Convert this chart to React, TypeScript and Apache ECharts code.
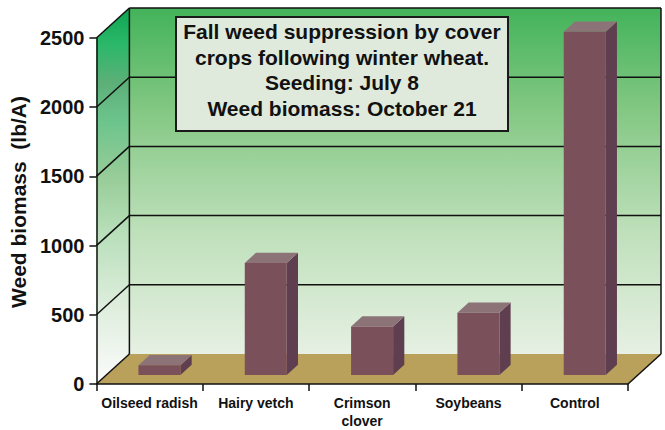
import React, { useEffect, useRef } from 'react';
import * as echarts from 'echarts';

const categories = ['Oilseed radish', 'Hairy vetch', 'Crimson\nclover', 'Soybeans', 'Control'];
const biomass = [70, 810, 350, 450, 2480];
const yTicks = [0, 500, 1000, 1500, 2000, 2500];
const titleLines = [
  'Fall weed suppression by cover',
  'crops following winter wheat.',
  'Seeding: July 8',
  'Weed biomass: October 21',
];
const yAxisName = 'Weed biomass  (lb/A)';

const DX = 33;
const DY = -30;
const FONT = '"Liberation Sans", Arial, Helvetica, sans-serif';

export default function App() {
  const ref = useRef<HTMLDivElement>(null);

  useEffect(() => {
    const chart = echarts.init(ref.current!, null, { renderer: 'svg' });

    const backGrad = new echarts.graphic.LinearGradient(0, 0, 0, 1, [
      { offset: 0, color: '#43b35a' },
      { offset: 0.3, color: '#84c884' },
      { offset: 0.65, color: '#bfe0bb' },
      { offset: 1, color: '#e6f0e3' },
    ]);
    const leftGrad = new echarts.graphic.LinearGradient(0, 0, 0, 1, [
      { offset: 0, color: '#0da552' },
      { offset: 0.1, color: '#2cb86a' },
      { offset: 0.2, color: '#5daf78' },
      { offset: 0.3, color: '#6cc48c' },
      { offset: 0.45, color: '#98cc98' },
      { offset: 0.6, color: '#b8dfba' },
      { offset: 0.8, color: '#dfeede' },
      { offset: 1, color: '#fbfbfb' },
    ]);

    const line = (x1: number, y1: number, x2: number, y2: number, w = 1.5) => ({
      type: 'line',
      shape: { x1, y1, x2, y2 },
      style: { stroke: '#111', lineWidth: w },
    });

    const renderFrame = (params: any, api: any) => {
      const cs = params.coordSys;
      const xl = cs.x;
      const xr = cs.x + cs.width;
      const yAt = (v: number) => api.coord([0, v])[1];
      const y0 = yAt(0);
      const yTop = yAt(yTicks[yTicks.length - 1]);
      const children: any[] = [];
      children.push({
        type: 'rect',
        shape: { x: xl + DX, y: yTop + DY, width: cs.width, height: y0 - yTop },
        style: { fill: backGrad },
      });
      children.push({
        type: 'polygon',
        shape: { points: [[xl, yTop], [xl + DX, yTop + DY], [xl + DX, y0 + DY], [xl, y0]] },
        style: { fill: leftGrad },
      });
      children.push({
        type: 'polygon',
        shape: { points: [[xl, y0], [xr, y0], [xr + DX, y0 + DY], [xl + DX, y0 + DY]] },
        style: { fill: '#b9a15b' },
      });
      yTicks.forEach((v) => {
        const y = yAt(v);
        children.push(line(xl, y, xl + DX, y + DY));
        if (v > 0) children.push(line(xl + DX, y + DY, xr + DX, y + DY));
      });
      children.push(line(xl + DX, yTop + DY, xl + DX, y0 + DY));
      children.push(line(xr + DX, yTop + DY, xr + DX, y0 + DY));
      children.push(line(xr, y0, xr + DX, y0 + DY));
      return { type: 'group', children };
    };

    const F = 0.3;
    const D = 0.34;
    const renderBar = (params: any, api: any) => {
      const idx = api.value(0);
      const val = api.value(1);
      const base = api.coord([idx, 0]);
      const top = api.coord([idx, val]);
      const bw = api.size([1, 0])[0] * 0.395;
      const x0 = base[0] - bw / 2 + DX * F;
      const x1 = x0 + bw;
      const yb = base[1] + DY * F;
      const yt = top[1] + DY * F;
      const ddx = DX * D;
      const ddy = DY * D;
      return {
        type: 'group',
        children: [
          {
            type: 'polygon',
            shape: { points: [[x1, yt], [x1 + ddx, yt + ddy], [x1 + ddx, yb + ddy], [x1, yb]] },
            style: { fill: '#5f3e50' },
          },
          {
            type: 'polygon',
            shape: { points: [[x0, yt], [x1, yt], [x1 + ddx, yt + ddy], [x0 + ddx, yt + ddy]] },
            style: { fill: '#8c7378' },
          },
          {
            type: 'rect',
            shape: { x: x0, y: yt, width: bw, height: yb - yt },
            style: { fill: '#7a505a' },
          },
        ],
      };
    };

    chart.setOption({
      animation: false,
      backgroundColor: '#ffffff',
      textStyle: { fontFamily: FONT },
      grid: { left: 96, right: 37, top: 38, bottom: 42, containLabel: false },
      xAxis: {
        type: 'category',
        data: categories,
        z: 10,
        axisLine: { show: true, lineStyle: { color: '#111', width: 1.5 } },
        axisTick: { show: true, length: 7, alignWithLabel: false, lineStyle: { color: '#111', width: 1.5 } },
        axisLabel: {
          interval: 0,
          margin: 10,
          color: '#111',
          fontSize: 14,
          fontWeight: 'bold',
          lineHeight: 18,
          fontFamily: FONT,
        },
        splitLine: { show: false },
      },
      yAxis: {
        type: 'value',
        min: 0,
        max: 2500,
        interval: 500,
        z: 10,
        name: yAxisName,
        nameLocation: 'middle',
        nameRotate: 90,
        nameGap: 60,
        nameTextStyle: {
          fontSize: 21,
          fontWeight: 'bold',
          color: '#111',
          fontFamily: FONT,
          padding: [0, 0, 0, 18],
        },
        axisLine: { show: true, lineStyle: { color: '#111', width: 1.5 } },
        axisTick: { show: true, length: 7, lineStyle: { color: '#111', width: 1.5 } },
        axisLabel: {
          margin: 12,
          color: '#111',
          fontSize: 20,
          fontWeight: 'bold',
          fontFamily: FONT,
          formatter: (v: number) => String(v),
        },
        splitLine: { show: false },
      },
      graphic: [
        {
          type: 'rect',
          z: 100,
          zlevel: 0,
          shape: { x: 176, y: 17, width: 332, height: 114 },
          style: { fill: '#dfe9dc', stroke: '#1a1a1a', lineWidth: 2 },
        },
        {
          type: 'text',
          z: 101,
          zlevel: 0,
          x: 342,
          y: 70,
          style: {
            text: titleLines.join('\n'),
            fontSize: 21,
            fontWeight: 'bold',
            fontFamily: FONT,
            fill: '#111',
            align: 'center',
            verticalAlign: 'middle',
            lineHeight: 25.5,
          },
        },
      ],
      series: [
        {
          type: 'custom',
          name: 'frame',
          silent: true,
          z: 1,
          renderItem: renderFrame,
          data: [[0, 0]],
        },
        {
          type: 'custom',
          name: 'Weed biomass',
          z: 2,
          renderItem: renderBar,
          data: biomass.map((v, i) => [i, v]),
        },
      ],
    });

    return () => chart.dispose();
  }, []);

  return (
    <div
      ref={ref}
      style={{ position: 'absolute', left: 0, top: 0, width: 665, height: 430 }}
    />
  );
}
